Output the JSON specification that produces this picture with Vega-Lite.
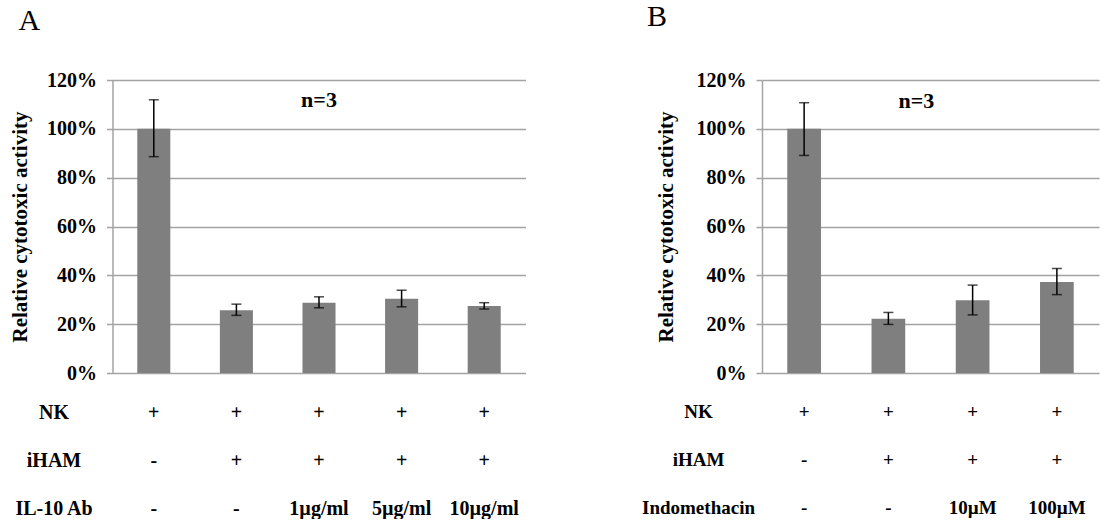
{
  "$schema": "https://vega.github.io/schema/vega-lite/v6.json",
  "padding": {"left": 8.5, "top": 2, "right": 0, "bottom": 0},
  "background": "white",
  "config": {
    "view": {"stroke": null},
    "font": "Liberation Serif",
    "axis": {
      "labelFont": "Liberation Serif",
      "labelFontWeight": "bold",
      "labelFontSize": 20,
      "labelColor": "black",
      "titleFont": "Liberation Serif",
      "titleFontWeight": "bold",
      "titleFontSize": 21,
      "titleColor": "black"
    }
  },
  "datasets": {
    "barsA": [
      {"cond": "c1", "value": 1.0, "lo": 0.886, "hi": 1.119},
      {"cond": "c2", "value": 0.257, "lo": 0.236, "hi": 0.282},
      {"cond": "c3", "value": 0.288, "lo": 0.267, "hi": 0.312},
      {"cond": "c4", "value": 0.304, "lo": 0.271, "hi": 0.339},
      {"cond": "c5", "value": 0.274, "lo": 0.262, "hi": 0.288}
    ],
    "barsB": [
      {"cond": "c1", "value": 1.0, "lo": 0.891, "hi": 1.107},
      {"cond": "c2", "value": 0.222, "lo": 0.199, "hi": 0.248},
      {"cond": "c3", "value": 0.298, "lo": 0.238, "hi": 0.36},
      {"cond": "c4", "value": 0.373, "lo": 0.321, "hi": 0.428}
    ],
    "noteA": [{"cond": "c3", "y": 1.118, "label": "n=3"}],
    "noteB": [{"cond": "c2", "y": 1.113, "label": "n=3"}],
    "tableA": [
      {"cond": "c1", "row": "NK", "label": "+"},
      {"cond": "c2", "row": "NK", "label": "+"},
      {"cond": "c3", "row": "NK", "label": "+"},
      {"cond": "c4", "row": "NK", "label": "+"},
      {"cond": "c5", "row": "NK", "label": "+"},
      {"cond": "c1", "row": "iHAM", "label": "-"},
      {"cond": "c2", "row": "iHAM", "label": "+"},
      {"cond": "c3", "row": "iHAM", "label": "+"},
      {"cond": "c4", "row": "iHAM", "label": "+"},
      {"cond": "c5", "row": "iHAM", "label": "+"},
      {"cond": "c1", "row": "IL-10 Ab", "label": "-"},
      {"cond": "c2", "row": "IL-10 Ab", "label": "-"},
      {"cond": "c3", "row": "IL-10 Ab", "label": "1µg/ml"},
      {"cond": "c4", "row": "IL-10 Ab", "label": "5µg/ml"},
      {"cond": "c5", "row": "IL-10 Ab", "label": "10µg/ml"}
    ],
    "tableB": [
      {"cond": "c1", "row": "NK", "label": "+"},
      {"cond": "c2", "row": "NK", "label": "+"},
      {"cond": "c3", "row": "NK", "label": "+"},
      {"cond": "c4", "row": "NK", "label": "+"},
      {"cond": "c1", "row": "iHAM", "label": "-"},
      {"cond": "c2", "row": "iHAM", "label": "+"},
      {"cond": "c3", "row": "iHAM", "label": "+"},
      {"cond": "c4", "row": "iHAM", "label": "+"},
      {"cond": "c1", "row": "Indomethacin", "label": "-"},
      {"cond": "c2", "row": "Indomethacin", "label": "-"},
      {"cond": "c3", "row": "Indomethacin", "label": "10µM"},
      {"cond": "c4", "row": "Indomethacin", "label": "100µM"}
    ]
  },
  "spacing": 115.5,
  "hconcat": [
    {
      "title": {"text": "A", "anchor": "start", "fontSize": 30, "fontWeight": "normal", "font": "Liberation Serif", "color": "black", "dx": 9.5, "offset": 34},
      "spacing": 19.5,
      "vconcat": [
        {
          "width": 413,
          "height": 293,
          "layer": [
            {
              "data": {"name": "barsA"},
              "mark": {"type": "bar", "color": "#7f7f7f"},
              "encoding": {
                "x": {"field": "cond", "type": "nominal", "axis": null, "scale": {"paddingInner": 0.6, "paddingOuter": 0.3}},
                "y": {"field": "value", "type": "quantitative", "scale": {"domain": [0, 1.2]},
                  "axis": {"title": "Relative cytotoxic activity", "values": [0, 0.2, 0.4, 0.6, 0.8, 1.0, 1.2], "format": ".0%",
                    "grid": true, "gridColor": "#a3a3a3", "gridWidth": 1.5, "domainColor": "#a3a3a3", "domainWidth": 1.5,
                    "tickColor": "#a3a3a3", "tickSize": 6, "tickWidth": 1.5, "labelPadding": 10, "titlePadding": 16.5}}
              }
            },
            {
              "data": {"name": "barsA"},
              "mark": {"type": "rule", "color": "black", "strokeWidth": 1.5},
              "encoding": {
                "x": {"field": "cond", "type": "nominal"},
                "y": {"field": "lo", "type": "quantitative"},
                "y2": {"field": "hi"}
              }
            },
            {
              "data": {"name": "barsA"},
              "mark": {"type": "tick", "color": "black", "size": 10, "thickness": 1.5},
              "encoding": {
                "x": {"field": "cond", "type": "nominal"},
                "y": {"field": "lo", "type": "quantitative"}
              }
            },
            {
              "data": {"name": "barsA"},
              "mark": {"type": "tick", "color": "black", "size": 10, "thickness": 1.5},
              "encoding": {
                "x": {"field": "cond", "type": "nominal"},
                "y": {"field": "hi", "type": "quantitative"}
              }
            },
            {
              "data": {"name": "noteA"},
              "mark": {"type": "text", "fontSize": 22, "fontWeight": "bold", "font": "Liberation Serif", "baseline": "middle", "color": "black"},
              "encoding": {
                "x": {"field": "cond", "type": "nominal"},
                "y": {"field": "y", "type": "quantitative"},
                "text": {"field": "label"}
              }
            }
          ]
        },
        {
          "width": 413,
          "height": 96,
          "data": {"name": "tableA"},
          "mark": {"type": "text", "fontSize": 20, "fontWeight": "bold", "font": "Liberation Serif", "baseline": "middle", "color": "black"},
          "encoding": {
            "x": {"field": "cond", "type": "nominal", "axis": null, "scale": {"paddingInner": 0.6, "paddingOuter": 0.3}},
            "y": {"field": "row", "type": "nominal", "scale": {"type": "point", "padding": 0, "domain": ["NK", "iHAM", "IL-10 Ab"]},
              "axis": {"title": null, "domain": false, "ticks": false, "tickSize": 0, "labelAlign": "center", "labelBaseline": "middle", "labelPadding": 59}},
            "text": {"field": "label"}
          }
        }
      ]
    },
    {
      "title": {"text": "B", "anchor": "start", "fontSize": 30, "fontWeight": "normal", "font": "Liberation Serif", "color": "black", "dx": 5.5, "offset": 38},
      "spacing": 19.5,
      "vconcat": [
        {
          "width": 337,
          "height": 293,
          "layer": [
            {
              "data": {"name": "barsB"},
              "mark": {"type": "bar", "color": "#7f7f7f"},
              "encoding": {
                "x": {"field": "cond", "type": "nominal", "axis": null, "scale": {"paddingInner": 0.6, "paddingOuter": 0.3}},
                "y": {"field": "value", "type": "quantitative", "scale": {"domain": [0, 1.2]},
                  "axis": {"title": "Relative cytotoxic activity", "values": [0, 0.2, 0.4, 0.6, 0.8, 1.0, 1.2], "format": ".0%",
                    "grid": true, "gridColor": "#a3a3a3", "gridWidth": 1.5, "domainColor": "#a3a3a3", "domainWidth": 1.5,
                    "tickColor": "#a3a3a3", "tickSize": 6, "tickWidth": 1.5, "labelPadding": 10, "titlePadding": 19.5}}
              }
            },
            {
              "data": {"name": "barsB"},
              "mark": {"type": "rule", "color": "black", "strokeWidth": 1.5},
              "encoding": {
                "x": {"field": "cond", "type": "nominal"},
                "y": {"field": "lo", "type": "quantitative"},
                "y2": {"field": "hi"}
              }
            },
            {
              "data": {"name": "barsB"},
              "mark": {"type": "tick", "color": "black", "size": 10, "thickness": 1.5},
              "encoding": {
                "x": {"field": "cond", "type": "nominal"},
                "y": {"field": "lo", "type": "quantitative"}
              }
            },
            {
              "data": {"name": "barsB"},
              "mark": {"type": "tick", "color": "black", "size": 10, "thickness": 1.5},
              "encoding": {
                "x": {"field": "cond", "type": "nominal"},
                "y": {"field": "hi", "type": "quantitative"}
              }
            },
            {
              "data": {"name": "noteB"},
              "mark": {"type": "text", "fontSize": 22, "fontWeight": "bold", "font": "Liberation Serif", "baseline": "middle", "color": "black", "dx": 28},
              "encoding": {
                "x": {"field": "cond", "type": "nominal"},
                "y": {"field": "y", "type": "quantitative"},
                "text": {"field": "label"}
              }
            }
          ]
        },
        {
          "width": 337,
          "height": 96,
          "data": {"name": "tableB"},
          "mark": {"type": "text", "fontSize": 19, "fontWeight": "bold", "font": "Liberation Serif", "baseline": "middle", "color": "black"},
          "encoding": {
            "x": {"field": "cond", "type": "nominal", "axis": null, "scale": {"paddingInner": 0.6, "paddingOuter": 0.3}},
            "y": {"field": "row", "type": "nominal", "scale": {"type": "point", "padding": 0, "domain": ["NK", "iHAM", "Indomethacin"]},
              "axis": {"title": null, "domain": false, "ticks": false, "tickSize": 0, "labelAlign": "center", "labelBaseline": "middle", "labelPadding": 64, "labelFontSize": 19}},
            "text": {"field": "label"}
          }
        }
      ]
    }
  ]
}
